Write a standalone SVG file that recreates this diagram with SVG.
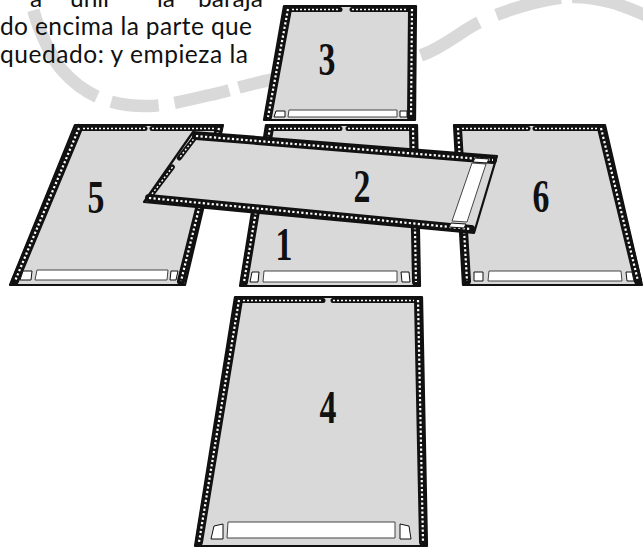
<svg xmlns="http://www.w3.org/2000/svg" width="643" height="548" viewBox="0 0 643 548">
<style>
.bg{fill:#fff}
.arc{fill:none;stroke:#d9d9d9;stroke-width:12.5;stroke-dasharray:0 21 111 15 48 16 56 10 60 20 85 20 67 19 67 11 300}
.txt{font-family:Lato,"Open Sans",sans-serif;font-size:24.5px;fill:#111}
.face{fill:#d9d9d9;stroke:#111;stroke-width:2.2;stroke-linejoin:round}
.side{fill:none;stroke:#111;stroke-width:8;stroke-linecap:round}
.sdot{fill:none;stroke:#fff;stroke-width:2.2;stroke-dasharray:2.2 2.3}
.top{fill:none;stroke:#111;stroke-width:5;stroke-linecap:round}
.tdot{fill:none;stroke:#fff;stroke-width:1.4;stroke-dasharray:2 2}
.strip{fill:#fff;stroke:#444;stroke-width:1}
.bit{fill:#fff;stroke:#111;stroke-width:1}
.num{font-family:"Liberation Serif",serif;font-size:47px;font-weight:bold;fill:#111;text-anchor:middle}
</style>
<rect class="bg" x="0" y="0" width="643" height="548"/>
<path class="arc" d="M28,-10 C30,-3.3 34.3,16.7 40,30 C45.7,43.3 52,58.7 62,70 C72,81.3 85.3,92 100,98 C114.7,104 131.7,106.5 150,106 C168.3,105.5 190,99.3 210,95 C230,90.7 246.7,84.5 270,80 C293.3,75.5 324.7,72.2 350,68 C375.3,63.8 400.3,62.7 422,55 C443.7,47.3 462,30.5 480,22 C498,13.5 514.7,8.2 530,4 C545.3,-0.2 558.7,-2.7 572,-3 C585.3,-3.3 597,-1.3 610,2 C623,5.3 643.3,14.5 650,17"/>
<text class="txt" y="7"><tspan x="30">a</tspan><tspan x="70">unir</tspan><tspan x="157">la</tspan><tspan x="198">baraja</tspan></text>
<text class="txt" x="0" y="35" textLength="252" lengthAdjust="spacing">do encima la parte que</text>
<text class="txt" x="0" y="63" textLength="248" lengthAdjust="spacing">quedado: y empieza la</text>

<g id="card3">
<polygon class="face" points="284,6 416,6 415,120 264,120"/>
<path class="top" d="M288,9.5 L340,9.5 M352,9.5 L412,9.5"/>
<path class="tdot" d="M288,9.5 L340,9.5 M352,9.5 L412,9.5"/>
<path class="side" d="M288,9 L268,117 M412,9 L411,117"/>
<path class="sdot" d="M288,9 L268,117 M412,9 L411,117"/>
<polygon class="strip" points="289,110 397,110 397,117 288,117"/>
<polygon class="bit" points="276,111 285,111 285,117 274,117"/>
<polygon class="bit" points="400,111 407,111 407,117 400,117"/>
<text class="num" transform="translate(327,75) scale(0.72,1)">3</text>
</g>

<g id="card5">
<polygon class="face" points="75,125 223,125 185,285 10,285"/>
<path class="top" d="M79,128.5 L145,128.5 M152,128.5 L219,128.5"/>
<path class="tdot" d="M79,128.5 L145,128.5 M152,128.5 L219,128.5"/>
<path class="side" d="M79,128 L15,281 M219,128 L181,281"/>
<path class="sdot" d="M79,128 L15,281 M219,128 L181,281"/>
<polygon class="strip" points="37,270 168,270 167,280 35,280"/>
<polygon class="bit" points="23,271 32,271 31,280 20,280"/>
<polygon class="bit" points="171,271 178,271 176,280 170,280"/>
<text class="num" transform="translate(96,213) scale(0.72,1)">5</text>
</g>

<g id="card1">
<polygon class="face" points="266,125 417,125 420,286 240,286"/>
<path class="top" d="M270,128.5 L340,128.5 M348,128.5 L413,128.5"/>
<path class="tdot" d="M270,128.5 L340,128.5 M348,128.5 L413,128.5"/>
<path class="side" d="M270,128 L244,282 M413,128 L416,282"/>
<path class="sdot" d="M270,128 L244,282 M413,128 L416,282"/>
<polygon class="strip" points="264,271 397,271 397,282 263,282"/>
<polygon class="bit" points="252,272 259,272 258,282 250,282"/>
<polygon class="bit" points="401,272 409,272 410,282 402,282"/>
<text class="num" transform="translate(284,260) scale(0.72,1)">1</text>
</g>

<g id="card6">
<polygon class="face" points="454,125 605,125 642,285 463,285"/>
<path class="top" d="M458,128.5 L528,128.5 M535,128.5 L601,128.5"/>
<path class="tdot" d="M458,128.5 L528,128.5 M535,128.5 L601,128.5"/>
<path class="side" d="M458,128 L467,281 M601,128 L638,281"/>
<path class="sdot" d="M458,128 L467,281 M601,128 L638,281"/>
<polygon class="strip" points="489,271 621,271 622,281 488,281"/>
<polygon class="bit" points="474,272 483,272 483,281 474,281"/>
<polygon class="bit" points="626,272 632,272 634,281 627,281"/>
<text class="num" transform="translate(541,212) scale(0.72,1)">6</text>
</g>

<g id="card4">
<polygon class="face" points="235,297 422,297 427,546 195,546"/>
<path class="top" d="M239,300.5 L323,300.5 M333,300.5 L418,300.5"/>
<path class="tdot" d="M239,300.5 L323,300.5 M333,300.5 L418,300.5"/>
<path class="side" d="M239,300 L199,542 M418,300 L423,542"/>
<path class="sdot" d="M239,300 L199,542 M418,300 L423,542"/>
<polygon class="strip" points="228,522 395,522 395,538 227,538"/>
<polygon class="bit" points="214,526 223,524 223,539 211,539"/>
<polygon class="bit" points="400,524 409,526 411,539 400,539"/>
<text class="num" transform="translate(328,423) scale(0.72,1)">4</text>
</g>

<g id="card2">
<polygon class="face" points="193,132 497,156 474,233 144,202"/>
<path class="top" d="M196,136 L179.3,158 M172.5,167 L149,198"/>
<path class="tdot" d="M196,136 L179.3,158 M172.5,167 L149,198"/>
<path class="side" d="M196,136 L493,160 M149,198 L471,229"/>
<path class="sdot" d="M196,136 L493,160 M149,198 L471,229"/>
<polygon class="strip" points="472,163 486,164 467,222 452,221"/>
<polygon class="bit" points="475,158 489,159 487,163 473,162"/>
<polygon class="bit" points="451,223 466,224 464,228 449,227"/>
<text class="num" transform="translate(362,202) scale(0.72,1)">2</text>
</g>
</svg>
